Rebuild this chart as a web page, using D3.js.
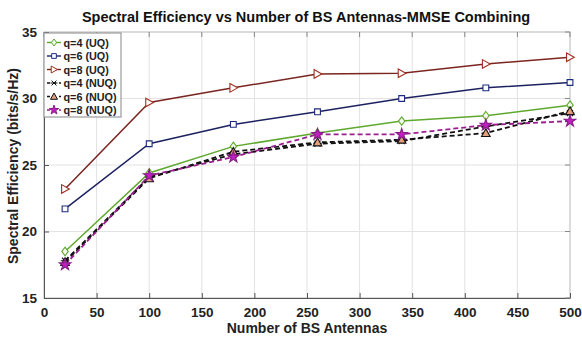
<!DOCTYPE html>
<html>
<head>
<meta charset="utf-8">
<script src="https://cdn.jsdelivr.net/npm/d3@7"></script>
<style>
  body { margin: 0; background: #fff; }
  text { font-family: "Liberation Sans", Arial, sans-serif; font-weight: bold; }
</style>
</head>
<body>
<div id="chart"></div>
<script>
// antenna counts on the x axis
var antennas = [20, 100, 180, 260, 340, 420, 500];

// spectral efficiency values per series (bits/s/Hz)
var q4UQ  = [18.5, 24.4, 26.4, 27.4, 28.3, 28.7, 29.5];
var q6UQ  = [21.7, 26.6, 28.05, 29.0, 30.0, 30.8, 31.2];
var q8UQ  = [23.2, 29.7, 30.8, 31.85, 31.9, 32.6, 33.1];
var q4NUQ = [17.8, 24.1, 25.8, 26.6, 26.8, 27.9, 28.9];
var q6NUQ = [17.7, 24.0, 26.0, 26.7, 26.9, 27.4, 29.05];
var q8NUQ = [17.5, 24.2, 25.6, 27.3, 27.3, 28.0, 28.3];

var seriesNames = ["q=4 (UQ)", "q=6 (UQ)", "q=8 (UQ)", "q=4 (NUQ)", "q=6 (NUQ)", "q=8 (NUQ)"];
var xTicks = [0, 50, 100, 150, 200, 250, 300, 350, 400, 450, 500];
var yTicks = [15, 20, 25, 30, 35];

var series = [
  { name: seriesNames[0], values: q4UQ,  color: "#5ea82e", dash: null,  marker: "diamond",  fill: "#f2fbe9", edge: "#5ea82e" },
  { name: seriesNames[1], values: q6UQ,  color: "#1c2260", dash: null,  marker: "square",   fill: "#ffffff", edge: "#1c2a80" },
  { name: seriesNames[2], values: q8UQ,  color: "#7a2520", dash: null,  marker: "triright", fill: "#ffffff", edge: "#a03020" },
  { name: seriesNames[3], values: q4NUQ, color: "#111111", dash: "5,3", marker: "cross",    fill: "none",    edge: "#111111" },
  { name: seriesNames[4], values: q6NUQ, color: "#111111", dash: "5,3", marker: "triup",    fill: "#e4a07c", edge: "#111111" },
  { name: seriesNames[5], values: q8NUQ, color: "#9a1f8e", dash: "5,3", marker: "star",     fill: "#c020c0", edge: "#8a1a8a" }
];

var width = 582,
    height = 340;
var margin = { left: 44, right: 12, top: 32, bottom: 42 };

var svg = d3.select("#chart")
            .append("svg")
            .attr("width", width)
            .attr("height", height);

var x = d3.scaleLinear().domain([0, 500]).range([margin.left, width - margin.right]);
var y = d3.scaleLinear().domain([15, 35]).range([height - margin.bottom, margin.top]);

// grid
svg.append("g").selectAll("line.vgrid")
   .data(xTicks.slice(1, -1))
   .enter().append("line")
   .attr("x1", function(d) { return x(d); })
   .attr("x2", function(d) { return x(d); })
   .attr("y1", y(15)).attr("y2", y(35))
   .attr("stroke", "#e2e2e2").attr("stroke-width", 1);

svg.append("g").selectAll("line.hgrid")
   .data(yTicks.slice(1, -1))
   .enter().append("line")
   .attr("x1", x(0)).attr("x2", x(500))
   .attr("y1", function(d) { return y(d); })
   .attr("y2", function(d) { return y(d); })
   .attr("stroke", "#e2e2e2").attr("stroke-width", 1);

// frame (top/right lighter)
svg.append("rect")
   .attr("x", x(0)).attr("y", y(35))
   .attr("width", x(500) - x(0)).attr("height", y(15) - y(35))
   .attr("fill", "none").attr("stroke", "#b8b8b8");

var xAxis = svg.append("g")
   .attr("transform", "translate(0," + y(15) + ")")
   .call(d3.axisBottom(x).tickValues(xTicks).tickSizeInner(-5).tickSizeOuter(0).tickPadding(9));
var yAxis = svg.append("g")
   .attr("transform", "translate(" + x(0) + ",0)")
   .call(d3.axisLeft(y).tickValues(yTicks).tickSizeInner(-5).tickSizeOuter(0).tickPadding(7));

[xAxis, yAxis].forEach(function(a) {
  a.select(".domain").attr("stroke", "#555");
  a.selectAll(".tick line").attr("stroke", "#555");
  a.selectAll("text").attr("font-size", 13.5).attr("fill", "#222")
   .attr("font-family", "'Liberation Sans', Arial, sans-serif").attr("font-weight", "bold");
});

// right & top ticks
svg.append("g").selectAll("line")
   .data(yTicks)
   .enter().append("line")
   .attr("x1", x(500)).attr("x2", x(500) - 5)
   .attr("y1", function(d) { return y(d); }).attr("y2", function(d) { return y(d); })
   .attr("stroke", "#888");
svg.append("g").selectAll("line")
   .data(xTicks)
   .enter().append("line")
   .attr("x1", function(d) { return x(d); }).attr("x2", function(d) { return x(d); })
   .attr("y1", y(35)).attr("y2", y(35) + 5)
   .attr("stroke", "#888");

function markerPath(type, s) {
  if (type == "diamond") return "M0," + (-s) + "L" + (s * 0.75) + ",0L0," + s + "L" + (-s * 0.75) + ",0Z";
  if (type == "square") return d3.symbol().type(d3.symbolSquare).size(s * s * 1.8)();
  if (type == "triright") return "M" + (-s * 0.8) + "," + (-s) + "L" + s + ",0L" + (-s * 0.8) + "," + s + "Z";
  if (type == "triup") return "M0," + (-s) + "L" + s + "," + (s * 0.8) + "L" + (-s) + "," + (s * 0.8) + "Z";
  if (type == "cross") return "M" + (-s * 0.7) + "," + (-s * 0.7) + "L" + (s * 0.7) + "," + (s * 0.7) + "M" + (s * 0.7) + "," + (-s * 0.7) + "L" + (-s * 0.7) + "," + (s * 0.7) + "M" + (-s) + ",0L" + s + ",0";
  if (type == "star") return d3.symbol().type(d3.symbolStar).size(s * s * 2.2)();
}

var line = d3.line()
  .x(function(d) { return x(d[0]); })
  .y(function(d) { return y(d[1]); });

var lines = svg.append("g").attr("class", "series");
series.forEach(function(s) {
  var pts = antennas.map(function(a, i) { return [a, s.values[i]]; });
  lines.append("path")
     .datum(pts)
     .attr("d", line)
     .attr("fill", "none")
     .attr("stroke", s.color)
     .attr("stroke-width", s.dash ? 1.8 : 1.5)
     .attr("stroke-dasharray", s.dash);
});
series.forEach(function(s) {
  var pts = antennas.map(function(a, i) { return [a, s.values[i]]; });
  lines.append("g").selectAll("path")
     .data(pts)
     .enter().append("path")
     .attr("transform", function(d) { return "translate(" + x(d[0]) + "," + y(d[1]) + ")"; })
     .attr("d", markerPath(s.marker, 4.3))
     .attr("fill", s.fill)
     .attr("stroke", s.edge)
     .attr("stroke-width", 1.1);
});

// legend
var legend = svg.append("g").attr("transform", "translate(44,33)");
legend.append("rect")
   .attr("x", 0).attr("y", 0).attr("width", 77).attr("height", 84)
   .attr("fill", "#fff").attr("stroke", "#999").attr("stroke-width", 1.2);
series.forEach(function(s, i) {
  var ly = 9.5 + i * 13.5;
  legend.append("line")
     .attr("x1", 3).attr("x2", 17).attr("y1", ly).attr("y2", ly)
     .attr("stroke", s.color).attr("stroke-width", 1.4)
     .attr("stroke-dasharray", s.dash ? "3,3" : null);
  legend.append("path")
     .attr("transform", "translate(10," + ly + ")")
     .attr("d", markerPath(s.marker, 3.5))
     .attr("fill", s.fill).attr("stroke", s.edge).attr("stroke-width", 1);
  legend.append("text")
     .attr("x", 19.5).attr("y", ly + 4)
     .attr("font-size", 10.8).attr("fill", "#222")
     .text(s.name);
});

// titles
svg.append("text")
   .attr("x", 306).attr("y", 22)
   .attr("text-anchor", "middle")
   .attr("font-size", 14.5).attr("fill", "#111")
   .text("Spectral Efficiency vs Number of BS Antennas-MMSE Combining");

svg.append("text")
   .attr("x", 307).attr("y", 333)
   .attr("text-anchor", "middle")
   .attr("font-size", 14).attr("fill", "#222")
   .text("Number of BS Antennas");

svg.append("text")
   .attr("transform", "translate(18,166) rotate(-90)")
   .attr("text-anchor", "middle")
   .attr("font-size", 14).attr("fill", "#222")
   .text("Spectral Efficiency (bits/s/Hz)");
</script>
</body>
</html>
